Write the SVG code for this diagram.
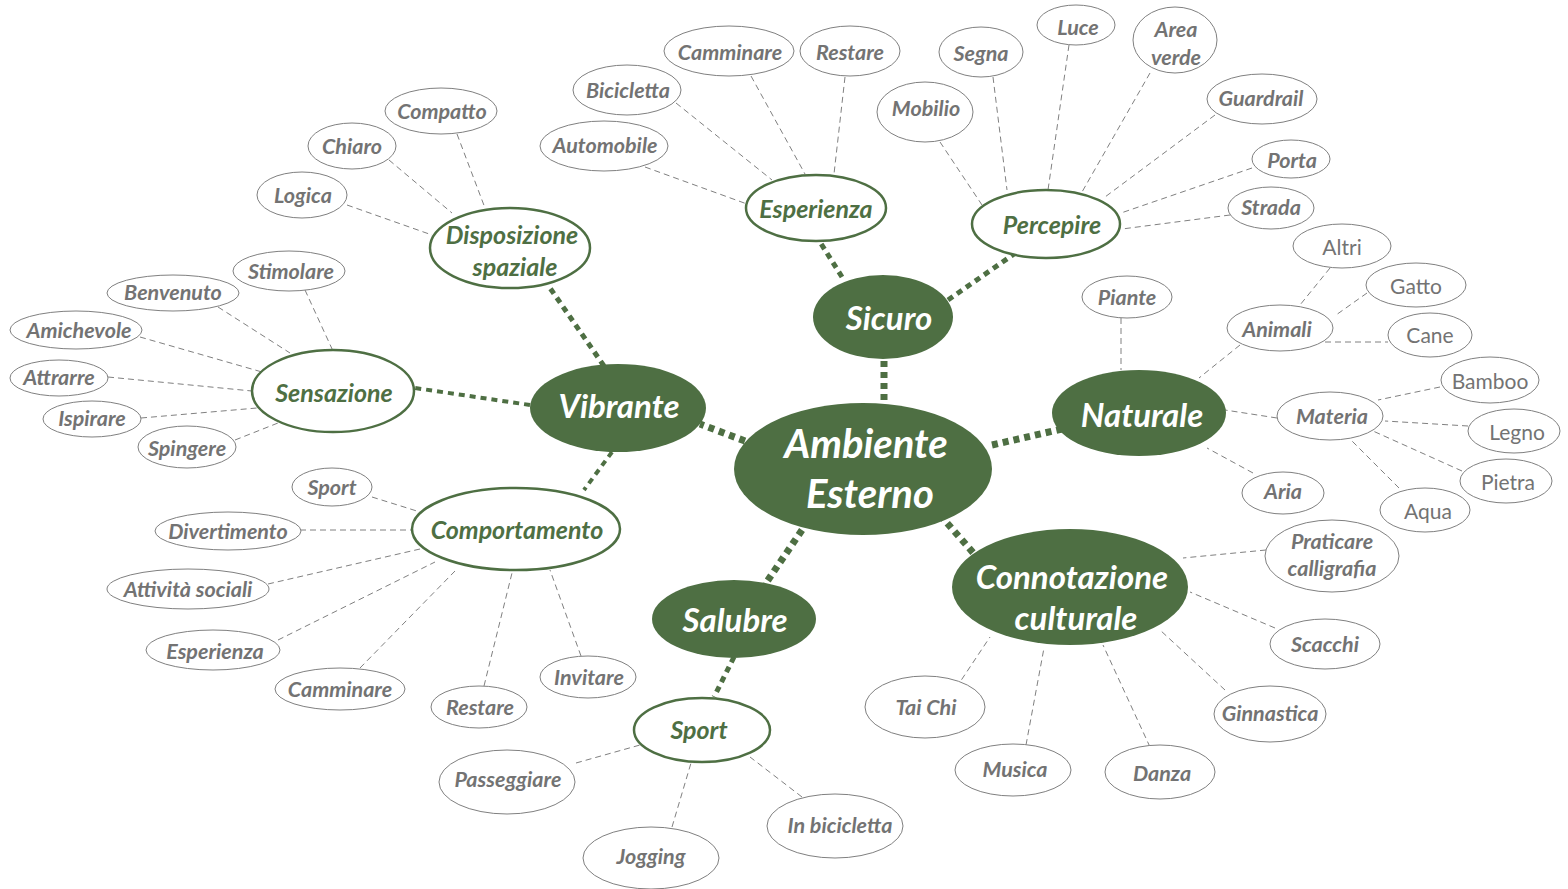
<svg xmlns="http://www.w3.org/2000/svg" width="1568" height="889" viewBox="0 0 1568 889">
<style>
.main{fill:#4E6F43}
.sec{fill:#fff;stroke:#4E6F43;stroke-width:2.5}
.leaf{fill:#fff;stroke:#808080;stroke-width:1}
text{font-family:Lato,"Liberation Sans",sans-serif;text-anchor:middle;dominant-baseline:central}
.tm{fill:#fff;font-weight:bold;font-style:italic;font-size:33px}
.tb{fill:#fff;font-weight:bold;font-style:italic;font-size:40px}
.ts{fill:#4E6F43;font-weight:bold;font-style:italic;font-size:25px}
.tl{fill:#737373;font-weight:bold;font-style:italic;font-size:21.5px}
.tn{fill:#737373;font-size:21px}
.d{stroke:#808080;stroke-width:1;stroke-dasharray:6 4;fill:none}
.g{stroke:#4E6F43;fill:none;stroke-dasharray:6 5}
</style>
<g id="connectors">
<path class="g" stroke-width="7" d="M884 400 L884 358"/>
<path class="g" stroke-width="7" d="M745 441 L700 424"/>
<path class="g" stroke-width="7" d="M992 445 L1062 429"/>
<path class="g" stroke-width="7" d="M940 515 L976 556"/>
<path class="g" stroke-width="7" d="M802 530 L766 583"/>
<path class="g" stroke-width="5" d="M842 277 L820 242"/>
<path class="g" stroke-width="5" d="M948 300 L1014 254"/>
<path class="g" stroke-width="5" d="M604 366 L550 288"/>
<path class="g" stroke-width="4" d="M530 405 L415 388"/>
<path class="g" stroke-width="4" d="M612 452 L584 490"/>
<path class="g" stroke-width="5" d="M734 657 L714 697"/>
<path class="d" d="M457 134 L485 208"/>
<path class="d" d="M389 160 L452 213"/>
<path class="d" d="M347 205 L432 235"/>
<path class="d" d="M305 290 L333 351"/>
<path class="d" d="M218 307 L290 353"/>
<path class="d" d="M140 337 L262 372"/>
<path class="d" d="M108 377 L252 391"/>
<path class="d" d="M141 418 L257 408"/>
<path class="d" d="M235 440 L278 423"/>
<path class="d" d="M372 497 L420 512"/>
<path class="d" d="M300 530 L412 530"/>
<path class="d" d="M268 584 L420 549"/>
<path class="d" d="M278 640 L435 562"/>
<path class="d" d="M360 668 L455 571"/>
<path class="d" d="M484 686 L512 573"/>
<path class="d" d="M581 656 L550 570"/>
<path class="d" d="M645 167 L747 204"/>
<path class="d" d="M676 103 L772 180"/>
<path class="d" d="M751 76 L805 174"/>
<path class="d" d="M845 77 L834 174"/>
<path class="d" d="M940 142 L982 205"/>
<path class="d" d="M993 77 L1007 190"/>
<path class="d" d="M1069 45 L1048 190"/>
<path class="d" d="M1150 73 L1082 192"/>
<path class="d" d="M1215 115 L1105 197"/>
<path class="d" d="M1252 168 L1121 213"/>
<path class="d" d="M1230 215 L1122 229"/>
<path class="d" d="M1121 318 L1121 370"/>
<path class="d" d="M1240 345 L1199 378"/>
<path class="d" d="M1277 418 L1225 410"/>
<path class="d" d="M1253 473 L1207 448"/>
<path class="d" d="M1330 268 L1300 305"/>
<path class="d" d="M1367 293 L1336 315"/>
<path class="d" d="M1325 342 L1388 342"/>
<path class="d" d="M1440 387 L1378 400"/>
<path class="d" d="M1468 426 L1385 421"/>
<path class="d" d="M1462 471 L1373 431"/>
<path class="d" d="M1399 488 L1352 441"/>
<path class="d" d="M1266 550 L1183 558"/>
<path class="d" d="M1275 628 L1190 592"/>
<path class="d" d="M1225 690 L1160 630"/>
<path class="d" d="M1150 747 L1103 645"/>
<path class="d" d="M1026 745 L1044 648"/>
<path class="d" d="M956 688 L990 637"/>
<path class="d" d="M576 763 L640 745"/>
<path class="d" d="M672 827 L691 763"/>
<path class="d" d="M802 797 L750 757"/>
</g>
<g id="ambiente"><ellipse class="main" cx="863" cy="469" rx="129" ry="66"/><text class="tb" x="866" y="443">Ambiente</text><text class="tb" x="870" y="493">Esterno</text></g>
<g id="sicuro"><ellipse class="main" cx="883" cy="317" rx="70" ry="42"/><text class="tm" x="889" y="317">Sicuro</text></g>
<g id="vibrante"><ellipse class="main" cx="618" cy="408" rx="88" ry="44"/><text class="tm" x="619" y="405">Vibrante</text></g>
<g id="naturale"><ellipse class="main" cx="1139" cy="413" rx="87" ry="43"/><text class="tm" x="1142" y="414">Naturale</text></g>
<g id="connotazione"><ellipse class="main" cx="1070" cy="587" rx="118" ry="58"/><text class="tm" x="1072" y="576">Connotazione</text><text class="tm" x="1076" y="617">culturale</text></g>
<g id="salubre"><ellipse class="main" cx="734" cy="619" rx="82" ry="39"/><text class="tm" x="735" y="619">Salubre</text></g>
<g id="disposizione"><ellipse class="sec" cx="510" cy="248" rx="80" ry="40"/><text class="ts" x="512" y="234">Disposizione</text><text class="ts" x="515" y="266">spaziale</text></g>
<g id="esperienza"><ellipse class="sec" cx="816" cy="208" rx="70" ry="33"/><text class="ts" x="816" y="208">Esperienza</text></g>
<g id="percepire"><ellipse class="sec" cx="1046" cy="224" rx="74" ry="34"/><text class="ts" x="1052" y="224">Percepire</text></g>
<g id="sensazione"><ellipse class="sec" cx="333" cy="391" rx="81" ry="41"/><text class="ts" x="334" y="392">Sensazione</text></g>
<g id="comportamento"><ellipse class="sec" cx="516" cy="529" rx="104" ry="41"/><text class="ts" x="517" y="529">Comportamento</text></g>
<g id="sport"><ellipse class="sec" cx="702" cy="730" rx="68" ry="32"/><text class="ts" x="699" y="729">Sport</text></g>
<g id="compatto"><ellipse class="leaf" cx="441" cy="111" rx="56" ry="23"/><text class="tl" x="442" y="111">Compatto</text></g>
<g id="chiaro"><ellipse class="leaf" cx="352" cy="146" rx="44" ry="23"/><text class="tl" x="352" y="146">Chiaro</text></g>
<g id="logica"><ellipse class="leaf" cx="302" cy="195" rx="45" ry="23"/><text class="tl" x="303" y="195">Logica</text></g>
<g id="stimolare"><ellipse class="leaf" cx="289" cy="271" rx="56" ry="20"/><text class="tl" x="291" y="271">Stimolare</text></g>
<g id="benvenuto"><ellipse class="leaf" cx="173" cy="293" rx="66" ry="18"/><text class="tl" x="173" y="292">Benvenuto</text></g>
<g id="amichevole"><ellipse class="leaf" cx="76" cy="330" rx="66" ry="19"/><text class="tl" x="79" y="330">Amichevole</text></g>
<g id="attrarre"><ellipse class="leaf" cx="59" cy="378" rx="49" ry="18"/><text class="tl" x="59" y="377">Attrarre</text></g>
<g id="ispirare"><ellipse class="leaf" cx="92" cy="419" rx="49" ry="18"/><text class="tl" x="92" y="418">Ispirare</text></g>
<g id="spingere"><ellipse class="leaf" cx="187" cy="447" rx="49" ry="21"/><text class="tl" x="187" y="448">Spingere</text></g>
<g id="sport2"><ellipse class="leaf" cx="332" cy="487" rx="40" ry="19"/><text class="tl" x="332" y="487">Sport</text></g>
<g id="divertimento"><ellipse class="leaf" cx="228" cy="531" rx="73" ry="19"/><text class="tl" x="228" y="531">Divertimento</text></g>
<g id="attivita"><ellipse class="leaf" cx="188" cy="589" rx="81" ry="20"/><text class="tl" x="188" y="589">Attività sociali</text></g>
<g id="esperienza2"><ellipse class="leaf" cx="213" cy="650" rx="67" ry="20"/><text class="tl" x="215" y="651">Esperienza</text></g>
<g id="camminare2"><ellipse class="leaf" cx="340" cy="689" rx="65" ry="21"/><text class="tl" x="340" y="689">Camminare</text></g>
<g id="restare2"><ellipse class="leaf" cx="479" cy="707" rx="48" ry="21"/><text class="tl" x="480" y="707">Restare</text></g>
<g id="invitare"><ellipse class="leaf" cx="588" cy="677" rx="48" ry="21"/><text class="tl" x="589" y="677">Invitare</text></g>
<g id="camminare"><ellipse class="leaf" cx="729" cy="51" rx="65" ry="25"/><text class="tl" x="730" y="52">Camminare</text></g>
<g id="restare"><ellipse class="leaf" cx="850" cy="51" rx="50" ry="25"/><text class="tl" x="850" y="52">Restare</text></g>
<g id="bicicletta"><ellipse class="leaf" cx="627" cy="90" rx="54" ry="25"/><text class="tl" x="628" y="90">Bicicletta</text></g>
<g id="automobile"><ellipse class="leaf" cx="604" cy="146" rx="64" ry="25"/><text class="tl" x="605" y="145">Automobile</text></g>
<g id="mobilio"><ellipse class="leaf" cx="925" cy="112" rx="48" ry="30"/><text class="tl" x="926" y="108">Mobilio</text></g>
<g id="segna"><ellipse class="leaf" cx="981" cy="52" rx="42" ry="25"/><text class="tl" x="981" y="53">Segna</text></g>
<g id="luce"><ellipse class="leaf" cx="1076" cy="25" rx="39" ry="20"/><text class="tl" x="1078" y="27">Luce</text></g>
<g id="areaverde"><ellipse class="leaf" cx="1175" cy="40" rx="42" ry="33"/><text class="tl" x="1176" y="29">Area</text><text class="tl" x="1176" y="57">verde</text></g>
<g id="guardrail"><ellipse class="leaf" cx="1262" cy="99" rx="55" ry="25"/><text class="tl" x="1261" y="98">Guardrail</text></g>
<g id="porta"><ellipse class="leaf" cx="1291" cy="159" rx="39" ry="19"/><text class="tl" x="1292" y="160">Porta</text></g>
<g id="strada"><ellipse class="leaf" cx="1271" cy="208" rx="43" ry="21"/><text class="tl" x="1271" y="207">Strada</text></g>
<g id="piante"><ellipse class="leaf" cx="1127" cy="297" rx="45" ry="21"/><text class="tl" x="1127" y="297">Piante</text></g>
<g id="animali"><ellipse class="leaf" cx="1280" cy="328" rx="53" ry="23"/><text class="tl" x="1277" y="329">Animali</text></g>
<g id="altri"><ellipse class="leaf" cx="1342" cy="246" rx="49" ry="22"/><text class="tn" x="1342" y="246">Altri</text></g>
<g id="gatto"><ellipse class="leaf" cx="1416" cy="285" rx="50" ry="22"/><text class="tn" x="1416" y="285">Gatto</text></g>
<g id="cane"><ellipse class="leaf" cx="1430" cy="335" rx="42" ry="22"/><text class="tn" x="1430" y="334">Cane</text></g>
<g id="bamboo"><ellipse class="leaf" cx="1490" cy="380" rx="49" ry="23"/><text class="tn" x="1490" y="380">Bamboo</text></g>
<g id="materia"><ellipse class="leaf" cx="1330" cy="416" rx="53" ry="24"/><text class="tl" x="1332" y="416">Materia</text></g>
<g id="legno"><ellipse class="leaf" cx="1514" cy="431" rx="46" ry="22"/><text class="tn" x="1517" y="431">Legno</text></g>
<g id="pietra"><ellipse class="leaf" cx="1506" cy="481" rx="46" ry="22"/><text class="tn" x="1508" y="481">Pietra</text></g>
<g id="aqua"><ellipse class="leaf" cx="1425" cy="510" rx="45" ry="22"/><text class="tn" x="1428" y="510">Aqua</text></g>
<g id="aria"><ellipse class="leaf" cx="1283" cy="493" rx="41" ry="21"/><text class="tl" x="1283" y="491">Aria</text></g>
<g id="praticare"><ellipse class="leaf" cx="1332" cy="556" rx="67" ry="36"/><text class="tl" x="1332" y="541">Praticare</text><text class="tl" x="1332" y="568">calligrafia</text></g>
<g id="scacchi"><ellipse class="leaf" cx="1325" cy="644" rx="55" ry="25"/><text class="tl" x="1325" y="644">Scacchi</text></g>
<g id="ginnastica"><ellipse class="leaf" cx="1270" cy="714" rx="56" ry="28"/><text class="tl" x="1270" y="713">Ginnastica</text></g>
<g id="danza"><ellipse class="leaf" cx="1160" cy="772" rx="55" ry="27"/><text class="tl" x="1162" y="773">Danza</text></g>
<g id="musica"><ellipse class="leaf" cx="1013" cy="770" rx="58" ry="26"/><text class="tl" x="1015" y="769">Musica</text></g>
<g id="taichi"><ellipse class="leaf" cx="925" cy="707" rx="60" ry="31"/><text class="tl" x="926" y="707">Tai Chi</text></g>
<g id="passeggiare"><ellipse class="leaf" cx="507" cy="782" rx="68" ry="32"/><text class="tl" x="508" y="779">Passeggiare</text></g>
<g id="jogging"><ellipse class="leaf" cx="651" cy="858" rx="68" ry="31"/><text class="tl" x="651" y="856">Jogging</text></g>
<g id="inbicicletta"><ellipse class="leaf" cx="835" cy="826" rx="68" ry="32"/><text class="tl" x="840" y="825">In bicicletta</text></g>
</svg>
